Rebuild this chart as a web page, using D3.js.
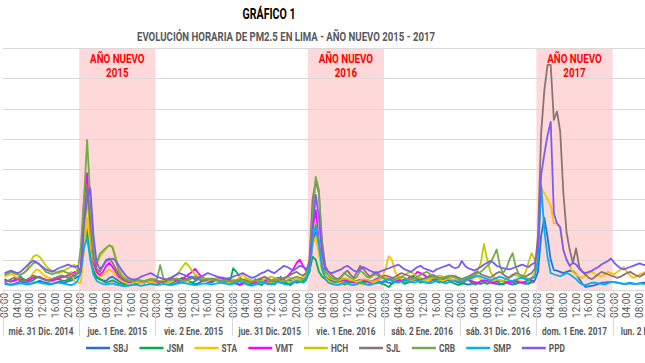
<!DOCTYPE html>
<html>
<head>
<meta charset="utf-8">
<script src="https://cdn.jsdelivr.net/npm/d3@7"></script>
<style>
  body { margin: 0; background: #fff; }
  svg { display: block; }
  text { font-family: Roboto, "Liberation Sans", Arial, sans-serif; }
</style>
</head>
<body>
<div id="chart"></div>
<script>
// days on the category axis (24 hourly readings each)
var days = ["mié. 31 Dic. 2014", "jue. 1 Ene. 2015", "vie. 2 Ene. 2015",
            "jue. 31 Dic. 2015", "vie. 1 Ene. 2016", "sáb. 2 Ene. 2016",
            "sáb. 31 Dic. 2016", "dom. 1 Ene. 2017", "lun. 2 Ene. 2017"];
var hourLabels = ["00:00", "04:00", "08:00", "12:00", "16:00", "20:00"];
var newYearDays = [1, 4, 7];
var newYearYears = ["2015", "2016", "2017"];

// PM2.5 hourly values per station (one row per day)
var SBJ = [
  12,10,9,10,12,14,13,12,10,11,13,15,14,12,11,10,12,14,13,12,14,16,18,22,
  25,70,94,60,32,22,18,16,15,20,22,18,15,12,10,9,10,12,11,13,12,14,12,11,
  10,12,14,12,10,9,11,13,16,18,15,12,10,11,14,16,13,12,15,18,16,14,13,12,
  12,10,9,11,13,12,10,12,14,13,11,10,12,15,14,12,11,13,16,14,12,13,15,20,
  30,75,95,70,35,22,18,15,13,12,14,16,13,12,15,14,12,13,16,15,13,12,14,13,
  14,12,11,13,15,17,14,12,13,16,18,15,13,12,14,17,16,14,13,15,17,16,14,12,
  11,10,9,10,12,11,10,12,14,13,11,10,9,11,12,10,9,11,13,12,10,11,13,16,
  30,90,119,88,50,33,32,30,28,30,32,31,26,18,10,5,6,7,8,10,12,12,13,13,
  13,12,11,10,10,11,10,10,11,12,12
];
var JSM = [
  18,15,14,16,20,22,18,15,14,16,20,22,19,16,15,17,20,18,16,15,17,19,22,28,
  35,75,100,60,30,20,18,15,12,14,16,13,11,10,9,10,12,11,10,12,14,13,12,11,
  12,14,16,13,11,12,15,18,20,17,14,12,15,18,22,19,16,14,17,20,18,15,13,14,
  36,30,22,15,10,8,12,18,10,8,14,20,12,9,15,22,14,10,8,12,16,20,14,18,
  30,55,50,30,22,18,15,12,10,14,12,9,11,15,13,10,12,14,11,9,12,14,12,10,
  8,5,10,16,20,14,10,12,18,22,16,12,14,20,24,18,14,12,16,20,15,12,10,8,
  10,14,18,12,9,11,15,13,10,12,16,14,11,9,12,15,13,10,12,14,12,10,13,14,
  null,null,null,null,null,null,null,null,null,null,null,null,null,null,null,null,null,null,null,null,null,null,null,null,
  null,null,null,null,null,null,null,null,null,null,null
];
var STA = [
  22,24,26,24,20,18,16,15,20,28,34,32,26,22,20,18,20,22,24,22,26,30,14,12,
  12,65,119,75,40,28,22,25,30,34,30,24,18,14,12,10,11,13,12,11,13,14,13,12,
  12,14,13,11,12,15,18,16,14,13,15,20,24,22,18,15,14,16,18,20,17,15,14,13,
  14,16,22,25,20,16,14,12,15,18,16,14,13,15,17,19,16,14,13,15,18,20,22,28,
  40,75,88,60,30,20,15,12,10,11,13,12,10,9,11,12,10,9,11,13,12,14,18,22,
  35,56,50,30,22,18,16,14,15,18,20,17,15,14,16,19,18,16,15,17,19,22,24,20,
  18,16,15,17,20,22,18,16,14,13,15,17,16,14,13,12,14,16,15,13,14,16,20,30,
  60,168,160,150,140,110,110,102,66,50,40,30,25,22,20,25,28,30,26,24,22,26,30,28,
  26,30,34,38,30,24,20,22,26,28,30
];
var VMT = [
  16,15,14,15,17,18,16,15,17,20,22,21,19,17,16,15,17,19,21,22,24,26,30,28,
  35,150,193,100,45,30,25,30,40,45,38,30,22,18,15,13,14,16,18,15,14,16,17,15,
  14,13,15,17,20,18,16,15,18,22,26,30,35,28,22,18,16,15,17,19,21,20,18,16,
  15,13,8,10,12,14,13,12,15,17,16,14,15,18,20,19,17,22,28,35,45,50,40,32,
  40,100,132,80,40,25,20,18,16,14,15,17,16,14,13,15,17,16,14,13,15,18,20,22,
  24,22,20,18,16,15,17,19,22,24,30,28,25,22,20,18,17,19,21,20,18,17,16,15,
  14,16,18,15,13,12,14,16,15,13,12,14,16,15,13,12,14,15,13,12,14,16,15,14,
  null,null,null,null,null,null,null,null,null,null,null,null,null,null,null,null,null,null,null,null,null,null,null,null,
  null,null,null,null,null,null,null,null,null,null,null
];
var HCH = [
  25,28,30,28,26,25,28,34,45,55,58,55,48,40,35,32,30,28,30,33,36,38,42,30,
  28,90,150,95,50,40,55,62,68,74,72,55,35,25,20,18,16,15,17,16,15,17,18,16,
  15,14,16,18,20,22,25,30,38,45,40,32,26,22,20,18,16,17,19,18,16,15,14,13,
  18,16,15,17,19,18,16,15,14,16,18,20,22,20,18,17,19,21,20,18,17,16,18,22,
  35,85,110,70,35,25,20,18,16,15,17,19,18,16,15,14,16,18,17,15,14,16,18,20,
  22,20,18,17,19,22,25,28,30,26,22,20,18,17,19,20,22,24,22,20,18,17,16,15,
  14,16,18,20,25,32,45,76,50,30,22,18,16,15,18,22,26,24,22,20,28,45,61,50,
  null,null,null,null,null,null,null,null,null,null,null,null,null,null,null,null,null,null,null,null,null,null,null,null,
  null,null,null,null,null,null,null,null,null,null,null
];
var SJL = [
  14,15,18,20,18,16,15,17,20,24,22,20,18,17,16,18,20,22,24,22,20,22,25,28,
  30,120,173,110,55,35,30,40,50,52,45,35,25,20,16,14,15,17,16,15,14,16,18,17,
  15,14,13,15,17,19,18,16,15,17,20,22,20,18,16,15,17,19,18,16,15,14,16,15,
  14,13,15,17,16,14,13,15,18,20,22,18,16,14,15,17,20,22,25,28,30,26,24,28,
  50,150,180,160,80,40,30,25,20,18,22,28,32,25,20,30,40,35,28,22,26,30,25,20,
  18,17,19,22,25,28,26,24,22,20,18,17,19,21,23,25,22,20,18,20,22,24,22,20,
  18,20,22,25,28,30,26,24,22,20,24,28,30,26,22,20,24,28,26,24,22,25,28,35,
  90,259,330,372,372,281,295,262,160,95,66,45,69,38,30,25,20,18,22,26,30,28,26,24,
  22,20,22,25,28,30,27,24,22,25,28
];
var CRB = [
  25,27,30,28,26,25,28,32,38,44,46,42,36,30,28,26,28,30,32,30,28,27,26,30,
  70,150,248,150,70,45,60,65,70,74,70,50,30,22,18,16,15,14,16,15,14,16,17,18,
  18,41,20,16,15,17,19,18,16,15,17,20,22,20,18,17,19,18,16,15,14,16,15,14,
  14,16,18,15,13,12,14,16,15,13,12,14,16,18,17,15,14,16,18,20,22,20,18,22,
  45,120,187,165,60,30,25,20,18,16,20,28,24,20,18,22,32,28,22,20,24,26,22,20,
  18,17,16,18,20,22,20,18,17,19,22,25,28,30,26,22,20,18,20,22,24,22,20,18,
  16,18,20,22,25,28,30,35,40,45,55,67,40,28,35,50,61,38,26,22,20,18,20,22,
  null,null,null,null,null,null,null,null,null,null,null,null,null,null,null,null,null,null,null,null,null,null,null,null,
  null,null,null,null,null,null,null,null,null,null,null
];
var SMP = [
  10,9,8,9,10,11,10,9,10,12,13,12,11,10,9,10,11,12,11,10,9,8,10,15,
  30,70,86,50,25,15,12,10,9,10,11,9,8,7,6,7,8,9,8,7,8,9,10,9,
  8,9,10,9,8,9,10,11,12,11,10,9,8,9,10,11,10,9,10,11,12,11,10,9,
  10,12,14,12,10,8,7,9,11,13,12,10,9,11,13,12,10,9,11,13,15,14,12,16,
  35,80,107,75,35,18,12,10,9,8,10,12,11,9,8,10,12,11,9,8,10,11,12,14,
  16,18,15,13,12,14,16,15,13,12,14,15,13,12,11,13,15,14,12,11,13,14,15,14,
  14,16,18,20,22,24,22,20,18,16,18,20,22,20,18,16,15,17,19,20,18,16,18,22,
  50,173,99,55,28,26,24,23,25,28,26,22,18,12,9,8,10,12,12,11,10,9,11,13,
  13,12,11,10,11,12,11,10,11,10,10
];
var PPD = [
  28,30,32,30,28,30,35,40,45,48,46,42,38,34,32,30,33,36,38,40,42,40,38,40,
  30,110,150,168,90,45,35,40,48,50,52,48,40,32,25,20,18,17,19,22,24,26,28,25,
  22,20,18,17,19,22,25,28,26,24,22,20,18,20,22,25,28,26,24,22,20,18,19,20,
  22,24,26,28,25,22,20,22,25,28,30,33,30,28,32,36,40,38,35,32,36,40,38,35,
  40,100,157,120,60,35,30,28,30,32,34,38,40,36,32,30,34,38,35,32,30,28,30,32,
  34,36,38,40,42,38,34,32,30,34,38,40,36,34,32,30,34,36,38,40,42,38,36,38,
  48,40,36,34,32,35,38,42,45,48,45,40,38,36,35,34,36,38,40,42,40,38,42,45,
  70,190,225,255,278,127,110,104,66,50,40,45,42,35,30,28,30,32,35,38,42,45,48,52,
  45,40,36,34,36,38,40,42,44,42,41
];

var stations = ["SBJ", "JSM", "STA", "VMT", "HCH", "SJL", "CRB", "SMP", "PPD"];
var seriesValues = [SBJ, JSM, STA, VMT, HCH, SJL, CRB, SMP, PPD];
var colors = ["#2A6FDB", "#00B050", "#FFC000", "#FF00FF", "#C8C800",
              "#8A7575", "#70AD47", "#00B0F0", "#7A5CF2"];

var W = 645, H = 363;
var plot = {left: 3, top: 48, bottom: 290, dayWidth: 76.2};

// squeeze text horizontally, the original uses a narrow font
function condense(sel, k) {
  sel.each(function() {
    var w = this.getComputedTextLength();
    d3.select(this).attr("textLength", w * k).attr("lengthAdjust", "spacingAndGlyphs");
  });
}

var svg = d3.select("#chart").append("svg")
    .attr("width", W)
    .attr("height", H);

svg.append("rect").attr("width", W).attr("height", H).attr("fill", "#fff");

var nHours = days.length * 24;
var x = d3.scaleBand()
    .domain(d3.range(nHours))
    .range([plot.left, plot.left + plot.dayWidth * days.length]);
var xDay = d3.scaleBand()
    .domain(d3.range(days.length))
    .range([plot.left, plot.left + plot.dayWidth * days.length]);
var y = d3.scaleLinear()
    .domain([0, 400])
    .range([plot.bottom, plot.top]);

// titles
svg.append("text")
    .attr("x", 269).attr("y", 19)
    .attr("text-anchor", "middle")
    .style("font-size", "14px").style("font-weight", "bold")
    .attr("fill", "#000")
    .attr("textLength", 53).attr("lengthAdjust", "spacingAndGlyphs")
    .text("GRÁFICO 1");

svg.append("text")
    .attr("x", 286).attr("y", 41)
    .attr("text-anchor", "middle")
    .style("font-size", "12.5px").style("font-weight", "bold")
    .attr("fill", "#595959")
    .attr("textLength", 298).attr("lengthAdjust", "spacingAndGlyphs")
    .text("EVOLUCIÓN HORARIA DE PM2.5 EN LIMA - AÑO NUEVO 2015 - 2017");

// new year shading
svg.selectAll(".ny")
    .data(newYearDays)
  .enter().append("rect")
    .attr("class", "ny")
    .attr("x", function(d) { return xDay(d); })
    .attr("y", y(400))
    .attr("width", xDay.bandwidth())
    .attr("height", y(0) - y(400))
    .attr("fill", "#FFD9D9");

// gridlines
svg.append("g")
    .selectAll("line")
    .data(y.ticks(8))
  .enter().append("line")
    .attr("x1", plot.left).attr("x2", W)
    .attr("y1", function(d) { return Math.round(y(d)) + 0.5; })
    .attr("y2", function(d) { return Math.round(y(d)) + 0.5; })
    .attr("stroke", "#D9D9D9")
    .attr("stroke-width", 1);

// new year labels
newYearDays.forEach(function(d, i) {
  var cx = xDay(d) + xDay.bandwidth() / 2;
  var t = svg.append("text")
      .attr("text-anchor", "middle")
      .attr("fill", "#FF0000")
      .style("font-size", "12.5px").style("font-weight", "bold");
  t.append("tspan").attr("x", cx).attr("y", 63).text("AÑO NUEVO");
  t.append("tspan").attr("x", cx).attr("y", 77).text(newYearYears[i]);
  t.selectAll("tspan").call(condense, 0.78);
});

// lines
var line = d3.line()
    .defined(function(d) { return d != null; })
    .x(function(d, i) { return x(i) + x.bandwidth() / 2; })
    .y(function(d) { return y(d); });

svg.append("g")
    .selectAll("path")
    .data(seriesValues)
  .enter().append("path")
    .attr("fill", "none")
    .attr("stroke", function(d, i) { return colors[i]; })
    .attr("stroke-width", 1.8)
    .attr("stroke-linejoin", "round")
    .attr("d", line);

// hour tick labels, rotated
var tickHours = d3.range(nHours).filter(function(h) { return h % 4 == 0; });
svg.append("g")
    .selectAll("text")
    .data(tickHours)
  .enter().append("text")
    .attr("transform", function(h) {
      return "translate(" + (x(h) + x.bandwidth() / 2 + 3.5) + "," + (plot.bottom + 3) + ") rotate(-90)";
    })
    .attr("text-anchor", "end")
    .attr("fill", "#595959")
    .style("font-size", "10px")
    .text(function(h) { return hourLabels[(h % 24) / 4]; });

// day separators and labels
svg.append("g")
    .selectAll("line")
    .data(d3.range(days.length + 1))
  .enter().append("line")
    .attr("x1", function(d) { return Math.round(plot.left + d * xDay.step()) + 0.5; })
    .attr("x2", function(d) { return Math.round(plot.left + d * xDay.step()) + 0.5; })
    .attr("y1", plot.bottom).attr("y2", plot.bottom + 46)
    .attr("stroke", "#D9D9D9");

svg.append("line")
    .attr("x1", plot.left).attr("x2", W)
    .attr("y1", plot.bottom + 0.5).attr("y2", plot.bottom + 0.5)
    .attr("stroke", "#D9D9D9");

svg.append("g")
    .selectAll("text")
    .data(days)
  .enter().append("text")
    .attr("x", function(d, i) { return xDay(i) + xDay.bandwidth() / 2; })
    .attr("y", 335)
    .attr("text-anchor", "middle")
    .attr("fill", "#595959")
    .style("font-size", "11px").style("font-weight", "bold")
    .text(function(d) { return d; })
    .call(condense, 0.75);

// legend
var legend = svg.append("g");
var lx = 86;
stations.forEach(function(s, i) {
  legend.append("line")
      .attr("x1", lx).attr("x2", lx + 24)
      .attr("y1", 348).attr("y2", 348)
      .attr("stroke", colors[i])
      .attr("stroke-width", 2.5);
  var t = legend.append("text")
      .attr("x", lx + 27).attr("y", 352)
      .attr("fill", "#595959")
      .style("font-size", "11px").style("font-weight", "bold")
      .text(s)
      .call(condense, 0.76);
  lx += 27 + t.node().getComputedTextLength() * 0.76 + 15;
});
</script>
</body>
</html>
